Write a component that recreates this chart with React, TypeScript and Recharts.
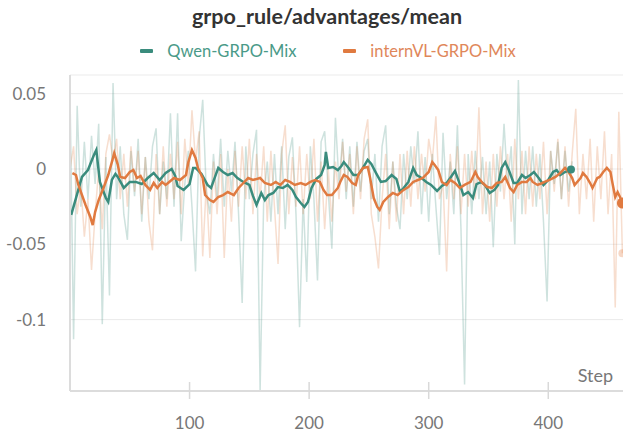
import { LineChart, Line, XAxis, YAxis, CartesianGrid } from 'recharts';

// raw per-step logs are sampled every few steps
const rawStride = 3;

const qwenRaw = [
  0.05, -0.113, 0.042, -0.025, 0.018, -0.02, 0.022, -0.01, 0.03, -0.103,
  0.008, -0.084, 0.057, -0.02, 0.015, -0.03, -0.047, 0.012, -0.018, 0.02,
  -0.035, 0.008, -0.02, 0.015, 0.027, -0.03, 0.005, -0.02, 0.037, -0.025,
  0.037, -0.048, -0.01, 0.012, -0.025, -0.068, 0.02, 0.046, -0.015, -0.03,
  0.01, -0.02, 0.02, -0.025, 0.012, -0.015, 0.018, -0.03, -0.089, 0.015,
  -0.02, 0.01, 0.026, -0.147, -0.02, 0.005, -0.035, 0.01, -0.03, 0.015,
  -0.04, 0.008, 0.021, -0.03, -0.105, -0.02, -0.075, 0.015, -0.02, -0.074,
  0.018, 0.025, -0.015, -0.053, 0.034, -0.01, 0.02, -0.02, 0.015, -0.025,
  0.018, -0.015, 0.012, 0.02, -0.02, 0.01, -0.035, 0.015, 0.029, -0.03,
  0.005, -0.025, -0.04, 0.01, -0.02, 0.015, -0.01, 0.025, -0.03, 0.008,
  -0.035, 0.01, -0.025, -0.057, 0.024, -0.02, 0.005, -0.03, 0.029, -0.04,
  -0.143, 0.01, -0.03, 0.012, -0.02, 0.008, -0.03, 0.005, -0.052, 0.01,
  -0.015, 0.03, -0.01, 0.015, -0.05, 0.059, -0.03, 0.012, -0.02, 0.015,
  -0.025, 0.01, -0.035, -0.088, 0.012, -0.01, 0.018, -0.02, 0.012, -0.015,
  0.005,
];

const internRaw = [
  0.0, 0.015, -0.03, -0.01, -0.045, -0.02, -0.067, -0.03, 0.0, -0.04,
  0.01, 0.023, 0.005, 0.02, -0.02, 0.01, -0.025, 0.015, -0.015, 0.012,
  -0.03, 0.008, -0.035, -0.054, 0.01, -0.03, 0.015, -0.025, 0.01, -0.02,
  0.018, -0.03, 0.02, -0.01, 0.039, 0.005, 0.025, -0.058, -0.01, -0.059,
  0.005, -0.03, 0.01, -0.059, 0.0, -0.035, 0.012, -0.025, 0.015, -0.02,
  0.02, -0.03, 0.01, -0.02, 0.015, -0.035, 0.012, -0.025, -0.063, 0.01,
  0.029, -0.03, 0.008, -0.025, 0.015, -0.03, 0.01, -0.02, 0.02, -0.035,
  0.005, -0.04, 0.0, -0.035, 0.005, -0.02, 0.018, -0.015, 0.01, -0.03,
  0.015, -0.02, 0.02, 0.033, -0.03, -0.045, -0.066, -0.02, 0.01, -0.04,
  0.005, -0.035, 0.01, -0.03, 0.012, -0.025, 0.015, -0.02, 0.01, -0.015,
  0.02, 0.005, 0.035, -0.02, -0.01, -0.068, 0.01, -0.02, 0.015, -0.03,
  0.01, -0.025, 0.012, -0.02, 0.041, -0.03, 0.005, -0.035, 0.01, -0.025,
  0.015, -0.02, 0.01, -0.035, 0.02, -0.02, 0.012, -0.03, 0.015, -0.025,
  0.01, -0.02, 0.018, -0.03, 0.012, -0.015, 0.02, -0.02, 0.015, -0.025,
  0.01, 0.04, -0.03, 0.01, -0.02, 0.02, -0.035, 0.015, -0.02, 0.025,
  -0.03, 0.01, -0.092, 0.038, -0.056,
];

// smoothed curves: [step, value]
const qwenSmoothed: [number, number][] = [
  [1, -0.0305], [5, -0.0193], [10, -0.0053], [15, -0.0007], [20, 0.0093], [22, 0.0126],
  [25, -0.0086], [30, -0.0193], [32, -0.0219], [35, -0.0073], [38, -0.0033], [40, -0.0053],
  [45, -0.0126], [50, -0.0086], [55, -0.0086], [60, -0.01], [65, -0.006], [70, -0.0027],
  [75, -0.0073], [80, -0.0027], [85, 0], [88, -0.0046], [90, -0.0113], [95, -0.0139],
  [100, -0.01], [103, 0.0007], [105, 0.0007], [110, -0.0033], [115, -0.0106], [118, -0.0126],
  [120, -0.008], [124, 0.0007], [128, -0.002], [132, -0.004], [136, -0.0027], [140, -0.006],
  [145, -0.0086], [150, -0.0106], [153, -0.0179], [156, -0.0239], [160, -0.0159], [163, -0.0206],
  [166, -0.0173], [170, -0.0159], [174, -0.012], [178, -0.0126], [182, -0.0106], [186, -0.0139],
  [189, -0.0186], [193, -0.0226], [196, -0.0252], [199, -0.0219], [202, -0.0126], [206, -0.0066],
  [210, -0.004], [213, 0.0027], [214, 0.0113], [216, 0.0007], [220, 0.0013], [224, -0.0007],
  [227, 0.002], [229, 0.0046], [233, 0.0007], [237, -0.004], [241, -0.004], [245, 0.0007],
  [249, 0.006], [252, 0.0033], [256, -0.0027], [260, -0.0086], [264, -0.008], [269, -0.004],
  [273, -0.0066], [276, -0.0153], [279, -0.0126], [283, -0.0086], [287, 0.0007], [290, -0.004],
  [294, -0.006], [298, -0.0086], [302, -0.0106], [307, -0.0146], [311, -0.0113], [315, -0.0093],
  [318, -0.006], [322, -0.0013], [326, -0.01], [329, -0.0173], [333, -0.0153], [337, -0.0193],
  [340, -0.01], [344, -0.0086], [347, -0.0106], [351, -0.0159], [355, -0.0139], [358, -0.0106],
  [361, 0.0007], [364, 0.0046], [367, -0.0007], [371, -0.0093], [374, -0.0093], [378, -0.004],
  [381, -0.006], [385, -0.004], [388, -0.002], [392, -0.006], [396, -0.0106], [400, -0.0073],
  [404, -0.002], [407, -0.0007], [410, -0.004], [414, -0.002], [419, -0.0003],
];

const internSmoothed: [number, number][] = [
  [2, -0.0027], [5, -0.004], [7, -0.0106], [13, -0.0239], [17, -0.0319], [19, -0.0372],
  [21, -0.0286], [24, -0.0206], [28, -0.0126], [32, -0.004], [35, 0.0046], [37, 0.0106],
  [40, 0.0027], [42, -0.0053], [46, -0.006], [50, -0.002], [53, -0.0007], [56, -0.006],
  [59, -0.0046], [63, -0.0106], [67, -0.0139], [70, -0.0093], [73, -0.0126], [77, -0.0086],
  [80, -0.0106], [82, -0.0093], [87, -0.006], [92, -0.0073], [97, -0.004], [99, 0.0046],
  [102, 0.0126], [105, 0.0073], [107, 0.0007], [111, -0.006], [113, -0.0173], [117, -0.0206],
  [120, -0.0219], [124, -0.0186], [128, -0.0173], [132, -0.0153], [137, -0.0173], [141, -0.0126],
  [145, -0.0093], [149, -0.006], [153, -0.0073], [159, -0.006], [163, -0.0093], [168, -0.0106],
  [172, -0.0086], [176, -0.0106], [180, -0.0073], [184, -0.0086], [188, -0.0106], [193, -0.0093],
  [197, -0.0106], [201, -0.0086], [205, -0.0073], [209, -0.0086], [212, -0.0139], [215, -0.0173],
  [219, -0.0173], [224, -0.0126], [226, -0.0086], [229, -0.004], [232, -0.0053], [236, -0.0093],
  [239, -0.0106], [241, -0.004], [245, 0.0007], [249, 0.0013], [251, -0.006], [254, -0.0193],
  [257, -0.0252], [259, -0.0272], [262, -0.0219], [266, -0.0186], [270, -0.0159], [274, -0.0173],
  [279, -0.0139], [283, -0.012], [287, -0.0086], [291, -0.0073], [295, -0.006], [300, -0.002],
  [303, 0.0046], [305, 0.0027], [308, -0.0007], [311, -0.0086], [315, -0.0106], [318, -0.0073],
  [322, -0.0093], [326, -0.0126], [330, -0.0106], [335, -0.0086], [339, -0.002], [341, -0.0053],
  [345, -0.0093], [349, -0.012], [353, -0.0126], [357, -0.0093], [361, -0.0086], [364, -0.0053],
  [368, -0.0126], [371, -0.0153], [374, -0.0106], [378, -0.0086], [382, -0.0086], [385, -0.006],
  [387, -0.0086], [391, -0.0106], [395, -0.0093], [397, -0.0086], [401, -0.0073], [406, -0.0053],
  [410, -0.0027], [414, 0.0007], [417, -0.002], [420, -0.006], [422, -0.0106], [427, -0.006],
  [429, -0.0027], [432, -0.0053], [435, -0.0093], [437, -0.0126], [441, -0.006], [443, -0.0053],
  [446, -0.002], [449, 0.0007], [452, -0.002], [454, -0.0106], [456, -0.0186], [458, -0.0153],
  [460, -0.0186], [462, -0.0226],
];

const xTicks = [100, 200, 300, 400];
const yTicks = [-0.1, -0.05, 0, 0.05];

const QWEN = '#3a8c7d';
const INTERN = '#e07a40';
const FONT = 'Lato, "Noto Sans", sans-serif';

const rawRows = (vals: number[]) => vals.map((v, i) => ({ step: i * rawStride, v }));
const pairRows = (pairs: [number, number][]) => pairs.map(([step, v]) => ({ step, v }));

// only the last point of a series gets a marker
const endDot = (count: number, color: string, r: number, opacity = 1) => (props: any) => {
  if (props.index !== count - 1) return <g key={`d-${props.index}`} />;
  return (
    <circle key={`d-${props.index}`} cx={props.cx} cy={props.cy} r={r} fill={color} fillOpacity={opacity} />
  );
};

const StepTick = ({ x, y, payload }: any) => (
  <g>
    <line x1={x} x2={x} y1={y - 9} y2={y + 8} stroke="#d9d9d9" strokeWidth={1.5} />
    <text x={x} y={y + 38} textAnchor="middle" fill="#777" fontSize={17} fontFamily={FONT}>
      {payload.value}
    </text>
  </g>
);

export default function App() {
  const qRaw = rawRows(qwenRaw);
  const iRaw = rawRows(internRaw);
  const qSm = pairRows(qwenSmoothed);
  const iSm = pairRows(internSmoothed);

  return (
    <div style={{ position: 'fixed', left: 0, top: 0, width: 638, height: 441, background: '#fff', fontFamily: FONT }}>
      <div
        style={{
          position: 'absolute', top: 3, left: 0, width: 638, textAlign: 'center',
          fontSize: 21.5, fontWeight: 700, color: '#333', paddingLeft: 16, boxSizing: 'border-box',
        }}
      >
        grpo_rule/advantages/mean
      </div>
      <div
        style={{
          position: 'absolute', top: 41, left: 0, width: 638, display: 'flex', justifyContent: 'center',
          alignItems: 'center', fontSize: 16.5, paddingLeft: 18, boxSizing: 'border-box',
        }}
      >
        <span style={{ display: 'inline-block', width: 13, height: 4, background: QWEN, borderRadius: 1, marginRight: 14 }} />
        <span style={{ color: '#4a9a88', marginRight: 47 }}>Qwen-GRPO-Mix</span>
        <span style={{ display: 'inline-block', width: 13, height: 4, background: INTERN, borderRadius: 1, marginRight: 14 }} />
        <span style={{ color: '#e0875a' }}>internVL-GRPO-Mix</span>
      </div>
      <div style={{ position: 'absolute', right: 25, top: 364, fontSize: 18, color: '#777' }}>Step</div>

      <LineChart width={638} height={441} margin={{ top: 75, right: 15, bottom: 0, left: 0 }}>
        <CartesianGrid vertical={false} stroke="#ebebeb" />
        <XAxis
          type="number"
          dataKey="step"
          domain={[0, 462.5]}
          ticks={xTicks}
          allowDataOverflow
          height={50}
          tickSize={0}
          tickMargin={0}
          tickLine={false}
          tick={<StepTick />}
          axisLine={{ stroke: '#dcdcdc', strokeWidth: 2 }}
        />
        <YAxis
          type="number"
          domain={[-0.1474, 0.0624]}
          ticks={yTicks}
          allowDataOverflow
          width={70}
          tickSize={0}
          tickMargin={24}
          tickLine={false}
          axisLine={{ stroke: '#dcdcdc', strokeWidth: 2 }}
          tick={{ fill: '#777', fontSize: 17, fontFamily: FONT }}
        />
        <Line data={qRaw} dataKey="v" type="linear" stroke={QWEN} strokeOpacity={0.25} strokeWidth={1.5}
          dot={false} isAnimationActive={false} />
        <Line data={iRaw} dataKey="v" type="linear" stroke={INTERN} strokeOpacity={0.25} strokeWidth={1.5}
          dot={endDot(iRaw.length, INTERN, 4, 0.3)} isAnimationActive={false} />
        <Line data={qSm} dataKey="v" type="linear" stroke={QWEN} strokeWidth={2.5}
          dot={endDot(qSm.length, QWEN, 4)} isAnimationActive={false} />
        <Line data={iSm} dataKey="v" type="linear" stroke={INTERN} strokeWidth={2.5}
          dot={endDot(iSm.length, INTERN, 5.5)} isAnimationActive={false} />
      </LineChart>
    </div>
  );
}
